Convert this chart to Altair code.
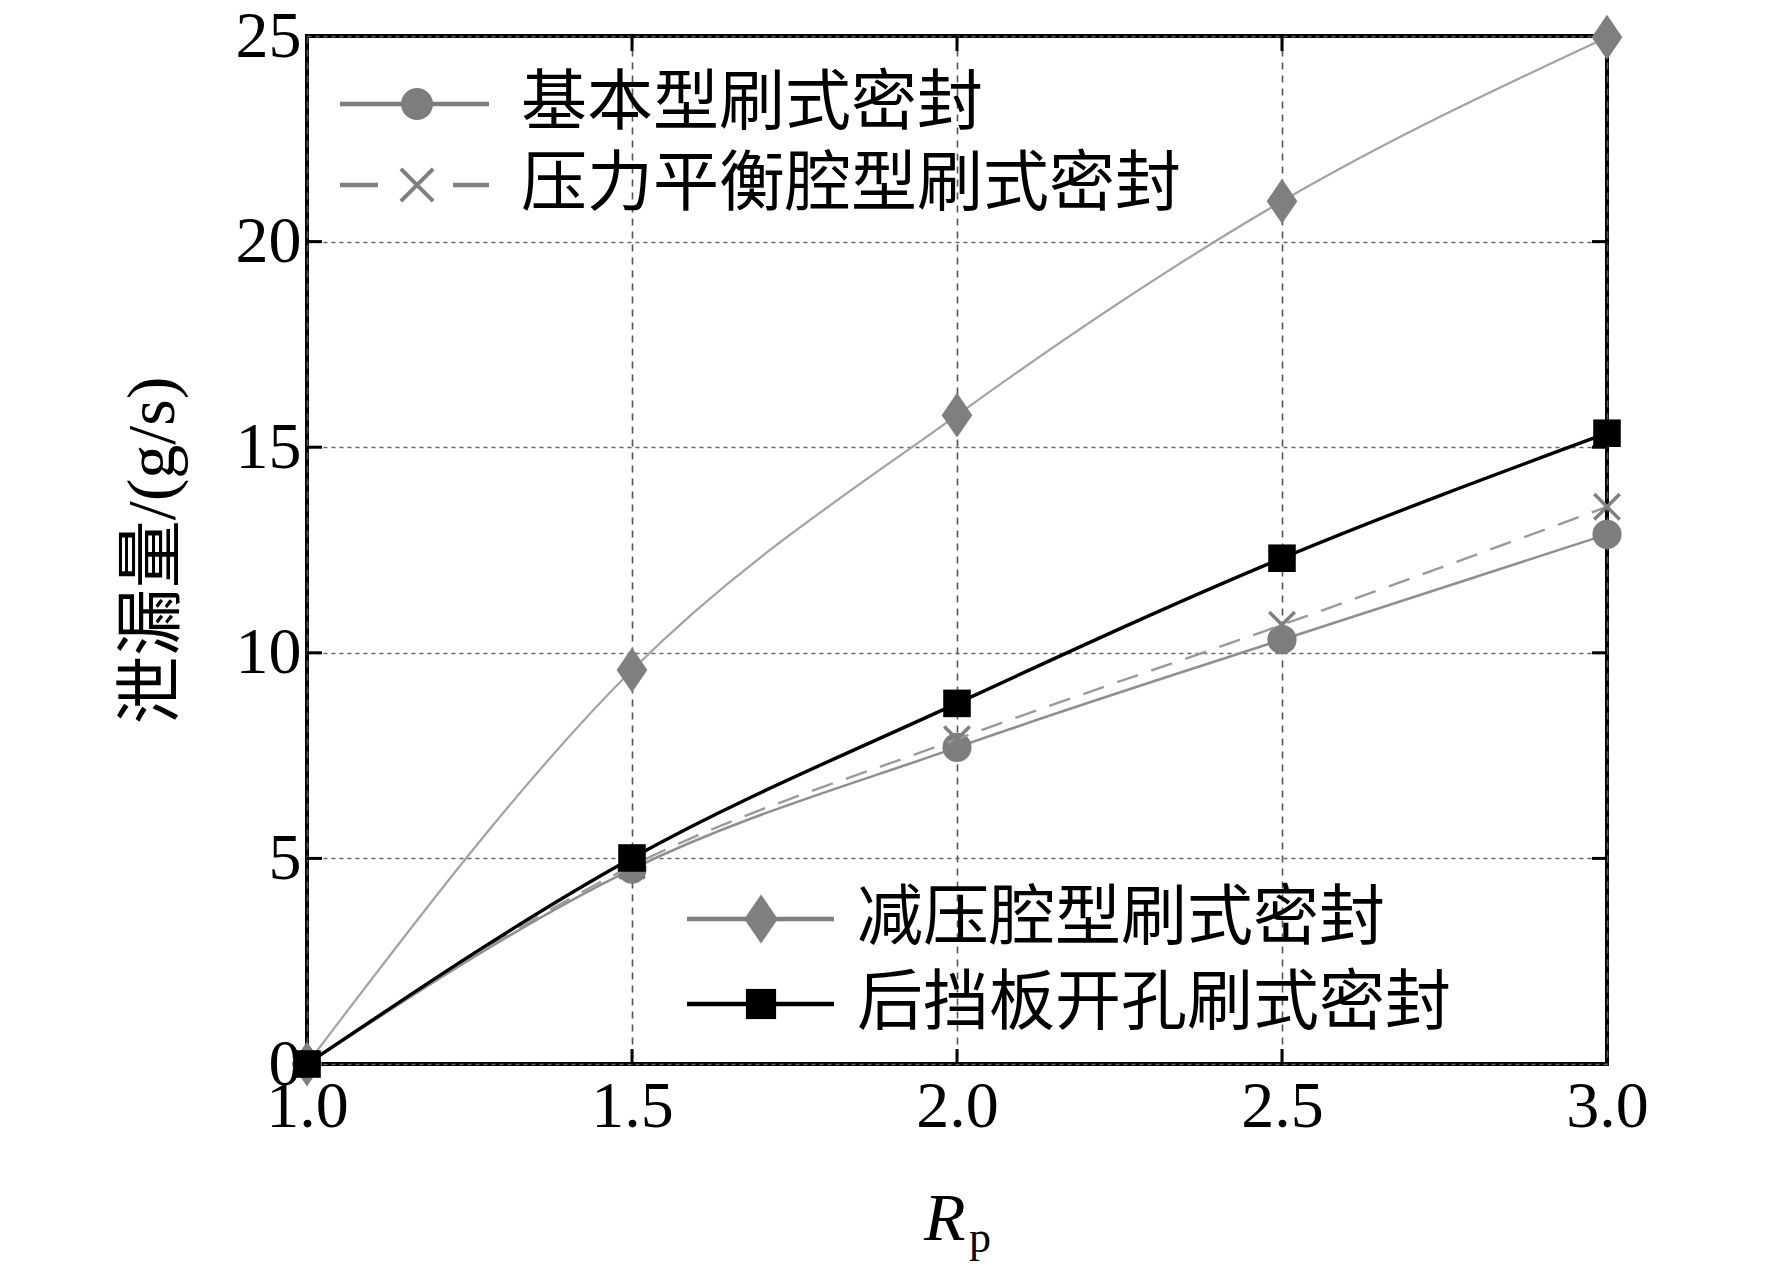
import altair as alt
import pandas as pd

# ---------------- data ----------------
rp = [1.0, 1.5, 2.0, 2.5, 3.0]
basic = [0.0, 4.74, 7.70, 10.32, 12.88]        # 基本型刷式密封
balance = [0.0, 4.82, 7.90, 10.68, 13.55]      # 压力平衡腔型刷式密封
relief = [0.0, 9.58, 15.78, 20.98, 24.97]      # 减压腔型刷式密封
backplate = [0.0, 5.01, 8.77, 12.30, 15.34]    # 后挡板开孔刷式密封
names = ["基本型刷式密封", "压力平衡腔型刷式密封", "减压腔型刷式密封", "后挡板开孔刷式密封"]
x_ticks = [1.0, 1.5, 2.0, 2.5, 3.0]
y_ticks = [0, 5, 10, 15, 20, 25]
x_inner = [1.5, 2.0, 2.5]
y_inner = [5, 10, 15, 20]
y_title = "泄漏量/(g/s)"
x_title_main = "R"
x_title_sub = "p"

W, H = 1300, 1028
SERIF = "Liberation Serif, Noto Sans CJK SC"
CJK = "Liberation Serif, Noto Sans CJK SC"

xs = alt.Scale(domain=[1.0, 3.0], nice=False, zero=False)
ys = alt.Scale(domain=[0, 25], nice=False, zero=False)

x_axis = alt.Axis(values=x_ticks, format=".1f", labelFont=SERIF, labelFontSize=66,
                  labelColor="black", labelPadding=10, labelFlush=False, labelOverlap=False,
                  ticks=False, tickSize=0, domain=False, grid=True, gridDash=[7, 6],
                  gridColor="#555555", gridWidth=1.6, title=None)
y_axis = alt.Axis(values=y_ticks, format="d", labelFont=SERIF, labelFontSize=66,
                  labelColor="black", labelPadding=6, labelFlush=False, labelOverlap=False,
                  ticks=False, tickSize=0, domain=False, grid=True, gridDash=[4, 4],
                  gridColor="#666666", gridWidth=1.6,
                  title=y_title, titleFont=CJK, titleFontSize=68, titleFontWeight="normal",
                  titleColor="black", titleX=-154, titleY=H / 2, titleAngle=270,
                  titleAlign="center", titleBaseline="middle")

X = alt.X("x:Q", scale=xs, axis=x_axis)
Y = alt.Y("y:Q", scale=ys, axis=y_axis)

X_SHAPE = "M-1,-1L1,1M-1,1L1,-1"
DIAMOND = "M0,-1.2L0.82,0L0,1.2L-0.82,0Z"

styles = [
    dict(vals=basic, line="#8f8f8f", lw=2.6, dash=None, shape="circle", size=850,
         mcolor="#7d7d7d", filled=True),
    dict(vals=balance, line="#9a9a9a", lw=2.4, dash=[22, 14], shape=X_SHAPE, size=650,
         mcolor="#808080", filled=False),
    dict(vals=relief, line="#a3a3a3", lw=2.2, dash=None, shape=DIAMOND, size=1400,
         mcolor="#7f7f7f", filled=True),
    dict(vals=backplate, line="#000000", lw=3.4, dash=None, shape="square", size=760,
         mcolor="#000000", filled=True),
]

layers = []
order = [2, 0, 1, 3]
for i in order:
    st = styles[i]
    df = pd.DataFrame({"x": rp, "y": st["vals"], "name": names[i]})
    lkw = dict(color=st["line"], strokeWidth=st["lw"], interpolate="monotone")
    if st["dash"]:
        lkw["strokeDash"] = st["dash"]
    line = alt.Chart(df).mark_line(**lkw).encode(x=X, y=Y)
    if st["filled"]:
        pt = alt.Chart(df).mark_point(shape=st["shape"], size=st["size"], filled=True,
                                      color=st["mcolor"], opacity=1).encode(x=X, y=Y)
    else:
        pt = alt.Chart(df).mark_point(shape=st["shape"], size=st["size"], filled=False,
                                      color=st["mcolor"], strokeWidth=3.5, opacity=1).encode(x=X, y=Y)
    layers += [line, pt]

# inward ticks on all four sides
xt = pd.DataFrame({"x": x_inner})
yt = pd.DataFrame({"y": y_inner})
TL = 15
tick_kw = dict(color="black", strokeWidth=3)
layers += [
    alt.Chart(xt).mark_rule(**tick_kw).encode(x=X, y=alt.value(0), y2=alt.value(TL)),
    alt.Chart(xt).mark_rule(**tick_kw).encode(x=X, y=alt.value(H - TL), y2=alt.value(H)),
    alt.Chart(yt).mark_rule(**tick_kw).encode(y=Y, x=alt.value(0), x2=alt.value(TL)),
    alt.Chart(yt).mark_rule(**tick_kw).encode(y=Y, x=alt.value(W - TL), x2=alt.value(W)),
]

# manual legends (two boxes)
legend_pos = {
    0: (33, 182, 110, 214, 68),
    1: (33, 182, 110, 214, 149),
    2: (380, 527, 454, 550, 883),
    3: (380, 527, 454, 550, 968),
}
for i, (x1, x2, mx, tx, ly) in legend_pos.items():
    st = styles[i]
    d = pd.DataFrame({"name": [names[i]]})
    rkw = dict(color=st["mcolor"] if i != 3 else "#000000", strokeWidth=4.5)
    if st["dash"]:
        layers.append(alt.Chart(d).mark_rule(**rkw).encode(
            x=alt.value(x1), x2=alt.value(x1 + 38), y=alt.value(ly)))
        layers.append(alt.Chart(d).mark_rule(**rkw).encode(
            x=alt.value(x2 - 36), x2=alt.value(x2), y=alt.value(ly)))
    else:
        layers.append(alt.Chart(d).mark_rule(**rkw).encode(
            x=alt.value(x1), x2=alt.value(x2), y=alt.value(ly)))
    if st["filled"]:
        layers.append(alt.Chart(d).mark_point(shape=st["shape"], size=st["size"] * 1.2, filled=True,
                                              color=st["mcolor"], opacity=1).encode(
            x=alt.value(mx), y=alt.value(ly)))
    else:
        layers.append(alt.Chart(d).mark_point(shape=st["shape"], size=st["size"] * 1.6, filled=False,
                                              color=st["mcolor"], strokeWidth=4, opacity=1).encode(
            x=alt.value(mx), y=alt.value(ly)))
    layers.append(alt.Chart(d).mark_text(font=CJK, fontSize=66, align="left", baseline="middle",
                                         color="black").encode(
        x=alt.value(tx), y=alt.value(ly), text="name:N"))

# x-axis title R_p (italic R with subscript p)
tdf = pd.DataFrame({"main": [x_title_main], "sub": [x_title_sub]})
layers.append(alt.Chart(tdf).mark_text(font="Liberation Serif", fontSize=68, fontStyle="italic",
                                       align="left", baseline="alphabetic", color="black").encode(
    x=alt.value(617), y=alt.value(1204), text="main:N"))
layers.append(alt.Chart(tdf).mark_text(font="Liberation Serif", fontSize=44,
                                       align="left", baseline="alphabetic", color="black").encode(
    x=alt.value(662), y=alt.value(1216), text="sub:N"))

chart = alt.layer(*layers).properties(
    width=W, height=H,
    padding={"left": 299, "top": 28, "right": 120, "bottom": 220},
    autosize=alt.AutoSizeParams(type="none"),
    background="white",
).configure_view(stroke="black", strokeWidth=4)

chart.save("out.html", embed_options={"renderer": "svg", "actions": False})
